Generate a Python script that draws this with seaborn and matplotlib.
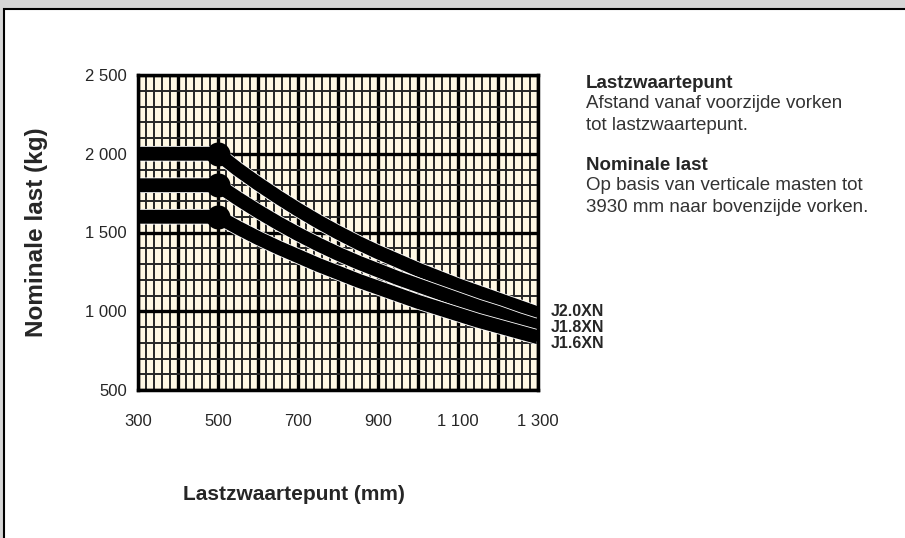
import numpy as np
import pandas as pd
import matplotlib
matplotlib.use("Agg")
import matplotlib.pyplot as plt
import matplotlib.patheffects as pe
from matplotlib.patches import Rectangle
from matplotlib.ticker import MultipleLocator, FuncFormatter
import seaborn as sns

# load centre (mm) vs rated load (kg)
lastzwaartepunt = [300, 500, 550, 600, 650, 700, 750, 800, 850, 900,
                   950, 1000, 1050, 1100, 1150, 1200, 1250, 1300]
j20xn = [2000, 2000, 1900, 1810, 1725, 1645, 1570, 1500, 1435, 1375,
         1320, 1265, 1215, 1165, 1120, 1075, 1030, 985]
j18xn = [1800, 1800, 1715, 1635, 1560, 1490, 1425, 1365, 1310, 1260,
         1210, 1165, 1120, 1075, 1030, 990, 945, 905]
j16xn = [1600, 1600, 1530, 1465, 1405, 1350, 1295, 1245, 1195, 1150,
         1105, 1060, 1020, 980, 940, 905, 870, 835]
modellen = ["J2.0XN", "J1.8XN", "J1.6XN"]

df = pd.DataFrame({
    "mm": lastzwaartepunt * 3,
    "kg": j20xn + j18xn + j16xn,
    "model": [m for m in modellen for _ in lastzwaartepunt],
})
knik = df[df["mm"] == 500]

sns.set_theme(style="white")
plt.rcParams["font.family"] = ["Liberation Sans", "DejaVu Sans"]

fig = plt.figure(figsize=(9.05, 5.38), dpi=100)
fig.patch.set_facecolor("#d6d6d6")
# white sheet with black edge on the left and top
fig.patches.append(Rectangle((4 / 905, -0.05), 1.2, 1 - 9 / 538 + 0.05,
                             transform=fig.transFigure, facecolor="white",
                             edgecolor="black", linewidth=1.5, zorder=-5))

ax = fig.add_axes([138 / 905, 1 - 390 / 538, 400 / 905, 315 / 538])
ax.set_facecolor("#fff8e4")

stroke = [pe.withStroke(linewidth=11.2, foreground="white")]
sns.lineplot(data=df, x="mm", y="kg", hue="model", hue_order=modellen,
             palette=["black"] * 3, linewidth=10, legend=False, ax=ax,
             solid_capstyle="butt", solid_joinstyle="round")
for ln in ax.lines:
    ln.set_path_effects(stroke)
sns.scatterplot(data=knik, x="mm", y="kg", color="black", s=300,
                linewidth=0, legend=False, ax=ax, zorder=5)

ax.set_xlim(300, 1300)
ax.set_ylim(500, 2500)

# graph paper
ax.xaxis.set_major_locator(MultipleLocator(100))
ax.xaxis.set_minor_locator(MultipleLocator(20))
ax.yaxis.set_major_locator(MultipleLocator(500))
ax.yaxis.set_minor_locator(MultipleLocator(100))
ax.grid(which="major", color="black", linewidth=2.4)
ax.grid(which="minor", color="#262626", linewidth=1.4)
ax.set_axisbelow(True)


def duizend(v, pos):
    return f"{v:,.0f}".replace(",", " ")


def xlab(v, pos):
    if int(round(v)) % 200 == 100:
        return duizend(v, pos)
    return ""


ax.xaxis.set_major_formatter(FuncFormatter(xlab))
ax.yaxis.set_major_formatter(FuncFormatter(duizend))
ax.tick_params(which="both", length=0)
ax.tick_params(axis="x", pad=17, labelsize=12)
ax.tick_params(axis="y", pad=8, labelsize=12)

for s in ax.spines.values():
    s.set_visible(True)
    s.set_color("black")
    s.set_linewidth(2.5)

ax.set_xlabel("Lastzwaartepunt (mm)", fontsize=15, fontweight="bold")
ax.xaxis.set_label_coords(0.39, -0.303)
ax.set_ylabel("Nominale last (kg)", fontsize=17.5, fontweight="bold")
ax.yaxis.set_label_coords(-0.226, 0.5)

# curve names at the right end
for naam, y in zip(modellen, [311, 327, 343]):
    fig.text(551 / 905, 1 - y / 538, naam, fontsize=11.5, fontweight="bold",
             va="center", ha="left")

# explanation on the right
tx = 586 / 905
fs = 13.5
fig.text(tx, 1 - 83 / 538, "Lastzwaartepunt", fontsize=fs, fontweight="bold", va="center")
fig.text(tx, 1 - 104 / 538, "Afstand vanaf voorzijde vorken", fontsize=fs, color="#333333", va="center")
fig.text(tx, 1 - 125 / 538, "tot lastzwaartepunt.", fontsize=fs, color="#333333", va="center")
fig.text(tx, 1 - 165 / 538, "Nominale last", fontsize=fs, fontweight="bold", va="center")
fig.text(tx, 1 - 186 / 538, "Op basis van verticale masten tot", fontsize=fs, color="#333333", va="center")
fig.text(tx, 1 - 207 / 538, "3930 mm naar bovenzijde vorken.", fontsize=fs, color="#333333", va="center")

fig.savefig("out.png", dpi=100, facecolor=fig.get_facecolor())
